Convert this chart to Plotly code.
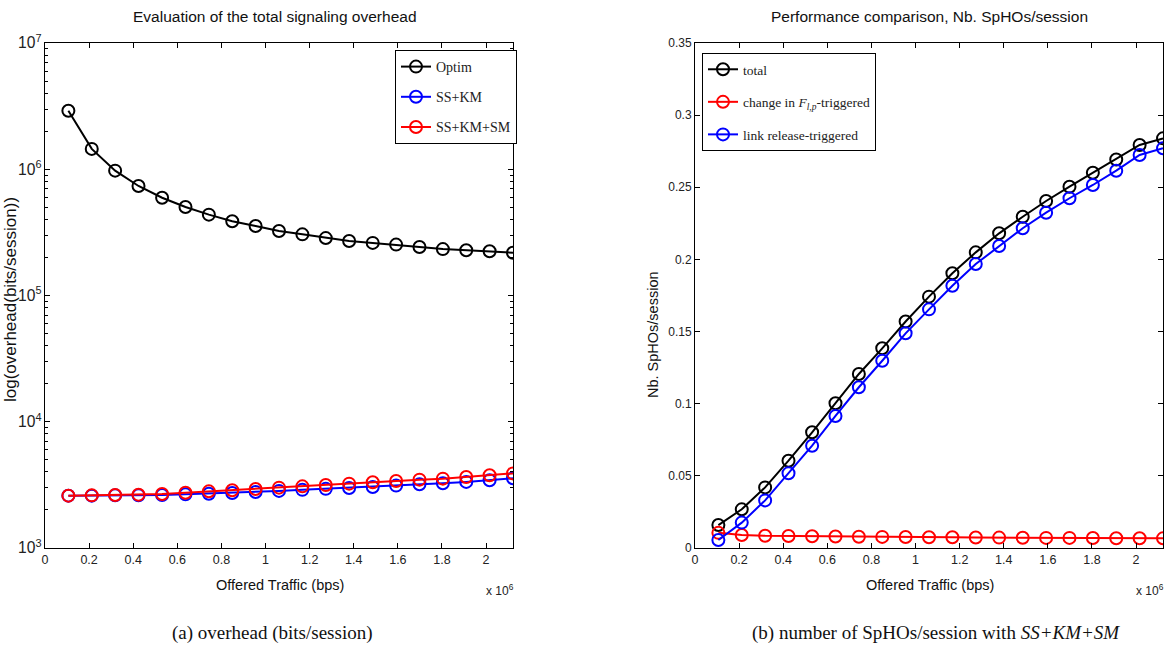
import plotly.graph_objects as go

# ---- data ----
offered_traffic = [0.106, 0.212, 0.318, 0.424, 0.531, 0.637, 0.743, 0.849, 0.955, 1.061,
                   1.167, 1.273, 1.379, 1.486, 1.592, 1.698, 1.804, 1.910, 2.016, 2.122]  # x 10^6 bps

overhead_optim = [2.91e6, 1.45e6, 9.75e5, 7.37e5, 5.95e5, 5.02e5, 4.37e5, 3.87e5, 3.55e5, 3.24e5,
                  3.05e5, 2.85e5, 2.70e5, 2.61e5, 2.53e5, 2.42e5, 2.33e5, 2.28e5, 2.24e5, 2.18e5]
overhead_sskm = [2597, 2597, 2612, 2612, 2628, 2660, 2693, 2726, 2778, 2833,
                 2887, 2940, 2990, 3046, 3121, 3199, 3260, 3340, 3445, 3565]
overhead_sskmsm = [2597, 2612, 2628, 2645, 2677, 2742, 2811, 2865, 2935, 3007,
                   3078, 3154, 3233, 3313, 3396, 3479, 3542, 3650, 3764, 3900]

sphos_total = [0.0159, 0.0268, 0.0420, 0.0605, 0.0802, 0.1003, 0.1206, 0.1384, 0.1570, 0.1742,
               0.1904, 0.2049, 0.2181, 0.2296, 0.2405, 0.2504, 0.2601, 0.2693, 0.2793, 0.2839]
sphos_change = [0.0105, 0.0090, 0.0085, 0.0083, 0.0081, 0.0080, 0.0078, 0.0077, 0.0076, 0.0075,
                0.0074, 0.0073, 0.0072, 0.0071, 0.0070, 0.0070, 0.0069, 0.0068, 0.0068, 0.0067]
sphos_link = [0.0055, 0.0176, 0.0330, 0.0518, 0.0709, 0.0915, 0.1114, 0.1298, 0.1488, 0.1654,
              0.1818, 0.1968, 0.2093, 0.2216, 0.2324, 0.2424, 0.2516, 0.2615, 0.2724, 0.2770]

x_ticks = [0, 0.2, 0.4, 0.6, 0.8, 1, 1.2, 1.4, 1.6, 1.8, 2]
x_ticklabels = ["0", "0.2", "0.4", "0.6", "0.8", "1", "1.2", "1.4", "1.6", "1.8", "2"]

SANS = "Liberation Sans, Arial, sans-serif"
SERIF = "Liberation Serif, Times New Roman, serif"

fig = go.Figure()

def add(x, y, name, color, xa, ya, legend, group):
    fig.add_trace(go.Scatter(
        x=x, y=y, name=name, mode="lines+markers",
        line=dict(color=color, width=2),
        marker=dict(symbol="circle-open", size=12, color=color, line=dict(width=2, color=color)),
        xaxis=xa, yaxis=ya, legend=legend, legendgroup=group,
    ))

add(offered_traffic, overhead_optim, "Optim", "black", "x", "y", "legend", "a")
add(offered_traffic, overhead_sskm, "SS+KM", "blue", "x", "y", "legend", "b")
add(offered_traffic, overhead_sskmsm, "SS+KM+SM", "red", "x", "y", "legend", "c")

add(offered_traffic, sphos_total, "total", "black", "x2", "y2", "legend2", "d")
add(offered_traffic, sphos_change, "change in <i>F</i><sub><i>l,p</i></sub>-triggered", "red", "x2", "y2", "legend2", "e")
add(offered_traffic, sphos_link, "link release-triggered", "blue", "x2", "y2", "legend2", "f")

W, H = 1172, 652
def px(v): return v / W
def py(v): return 1 - v / H

axis_common = dict(showline=True, linecolor="black", linewidth=1, mirror="allticks",
                   ticks="inside", ticklen=5, tickcolor="black", showgrid=False, zeroline=False,
                   automargin=False,
                   tickfont=dict(family=SANS, size=12.5, color="#222"))

xcommon = dict(axis_common, range=[0, 2.122], tickvals=x_ticks, ticktext=x_ticklabels)

def note(text, x, y, size, family=SANS, angle=0, color="#111"):
    return dict(text=text, x=px(x), y=py(y), xref="paper", yref="paper", showarrow=False,
                textangle=angle, font=dict(family=family, size=size, color=color),
                xanchor="center", yanchor="middle")

fig.update_layout(
    width=W, height=H, margin=dict(l=0, r=0, t=0, b=0, pad=0, autoexpand=False),
    paper_bgcolor="white", plot_bgcolor="white",
    showlegend=True,
    xaxis=dict(xcommon, domain=[px(45), px(513)], anchor="y"),
    yaxis=dict(axis_common, type="log", range=[3, 7], dtick=1, exponentformat="power",
               domain=[py(548), py(43)], anchor="x",
               minor=dict(ticks="inside", ticklen=3, tickcolor="black", showgrid=False)),
    xaxis2=dict(xcommon, domain=[px(695), px(1163)], anchor="y2"),
    yaxis2=dict(axis_common, range=[0, 0.35], dtick=0.05, domain=[py(548), py(43)], anchor="x2",
                tickfont=dict(family=SANS, size=12, color="#222")),
    legend=dict(x=px(395), y=py(50), xanchor="left", yanchor="top", bgcolor="white",
                bordercolor="black", borderwidth=1, font=dict(family=SERIF, size=14, color="#222"),
                tracegroupgap=9, traceorder="grouped", itemwidth=30),
    legend2=dict(x=px(702), y=py(53), xanchor="left", yanchor="top", bgcolor="white",
                 bordercolor="black", borderwidth=1, font=dict(family=SERIF, size=13.5, color="#222"),
                 tracegroupgap=12, traceorder="grouped", itemwidth=30),
    annotations=[
        note("Evaluation of the total signaling overhead", 275, 17, 15.5),
        note("Performance comparison, Nb. SpHOs/session", 929, 17, 15.5),
        note("Offered Traffic (bps)", 280, 585, 14.5),
        note("Offered Traffic (bps)", 930, 585, 14.5),
        note("log(overhead(bits/session))", 10, 300, 17, angle=-90),
        note("Nb. SpHOs/session", 653, 335, 14.5, angle=-90),
        note("x 10<sup>6</sup>", 500, 590, 12, color="#222"),
        note("x 10<sup>6</sup>", 1150, 590, 12, color="#222"),
        note("(a) overhead (bits/session)", 272, 633, 19, family=SERIF),
        note("(b) number of SpHOs/session with <i>SS+KM+SM</i>", 936, 633, 19, family=SERIF),
    ],
)

fig.write_html("out.html", config={"displayModeBar": False},
               post_script="document.body.style.margin='0';document.body.style.overflow='hidden';")
